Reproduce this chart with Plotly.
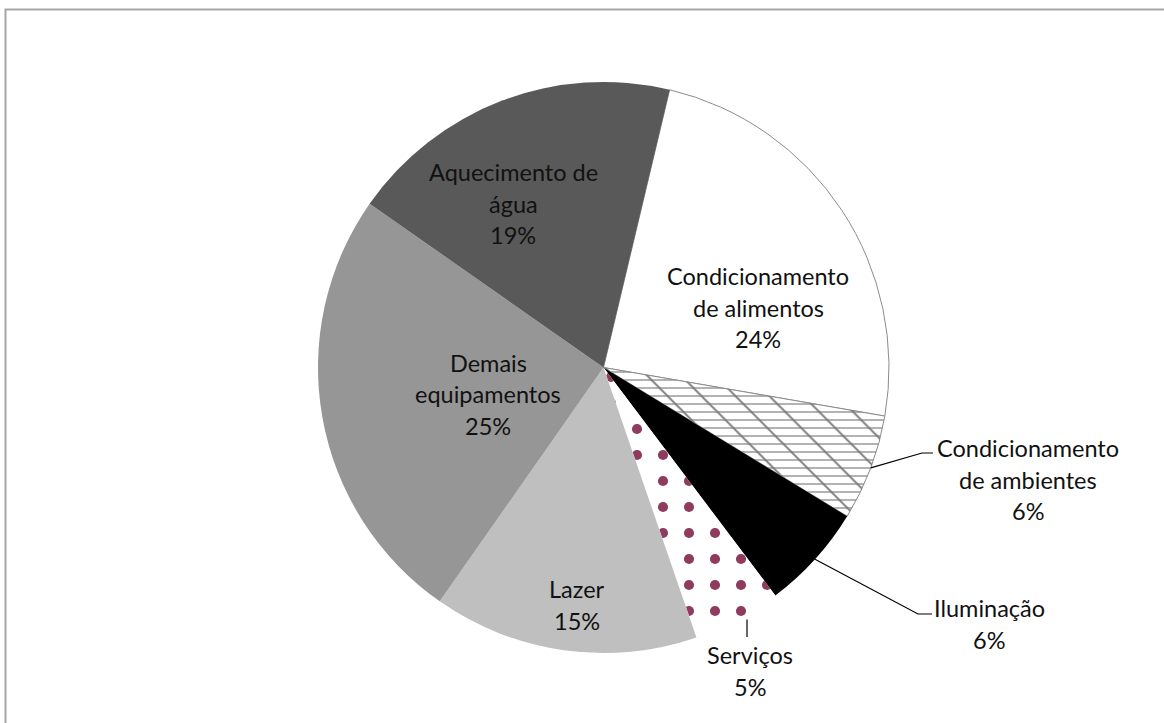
import math
import plotly.graph_objects as go

# Consumption share by end use (%), clockwise from the first slice
categories = [
    "Condicionamento de alimentos",
    "Condicionamento de ambientes",
    "Iluminação",
    "Serviços",
    "Lazer",
    "Demais equipamentos",
    "Aquecimento de água",
]
shares = [24, 6, 6, 5, 15, 25, 19]

# Label text split into lines
label_lines = [
    ["Condicionamento", "de alimentos"],
    ["Condicionamento", "de ambientes"],
    ["Iluminação"],
    ["Serviços"],
    ["Lazer"],
    ["Demais", "equipamentos"],
    ["Aquecimento de", "água"],
]

fill_colors = ["#ffffff", "#ffffff", "#000000", "#ffffff", "#bfbfbf", "#969696", "#595959"]

W, H = 1164, 723
CX, CY, R = 603.5, 367.5, 285.5   # pie centre and radius in pixels
ROTATION = 13.4                    # first slice starts this many degrees clockwise from 12 o'clock

def px(x):
    return x / W

def py(y):
    return 1 - y / H

dom_x = [px(CX - R), px(CX + R)]
dom_y = [py(CY + R), py(CY - R)]

fig = go.Figure()

# Base pie
fig.add_trace(go.Pie(
    labels=categories,
    values=shares,
    sort=False,
    direction="clockwise",
    rotation=ROTATION,
    textinfo="none",
    hoverinfo="label+percent",
    showlegend=False,
    domain=dict(x=dom_x, y=dom_y),
    marker=dict(
        colors=fill_colors,
        line=dict(color=["#8c8c8c", "#8c8c8c", "rgba(0,0,0,0)", "rgba(0,0,0,0)",
                         "rgba(0,0,0,0)", "rgba(0,0,0,0)", "rgba(0,0,0,0)"],
                  width=[1, 1, 0, 0, 0, 0, 0]),
        pattern=dict(
            shape=["", "-", "", ".", "", "", ""],
            fgcolor=["#ffffff", "#a0a0a0", "#000000", "#8e3b5e", "#bfbfbf", "#969696", "#595959"],
            size=[8, 8, 8, 26, 8, 8, 8],
            solidity=[0.2, 0.2, 0.2, 0.12, 0.2, 0.2, 0.2],
        ),
    ),
))

# Diagonal hatch layered over the "Condicionamento de ambientes" slice
fig.add_trace(go.Pie(
    labels=categories,
    values=shares,
    sort=False,
    direction="clockwise",
    rotation=ROTATION,
    textinfo="none",
    hoverinfo="skip",
    showlegend=False,
    domain=dict(x=dom_x, y=dom_y),
    marker=dict(
        colors=["rgba(0,0,0,0)"] * len(shares),
        line=dict(width=0),
        pattern=dict(
            shape=["", "\\", "", "", "", "", ""],
            fgcolor="#777777",
            bgcolor="rgba(0,0,0,0)",
            size=24,
            solidity=0.08,
        ),
    ),
))

FONT = dict(family="Lato, Open Sans, sans-serif", size=23.5, color="#111111")
LINE_GAP = 31.5

# Label blocks: centre x and first-line y in pixels
label_pos = [
    (758, 276),
    (1028, 448),
    (989, 608),
    (750, 655),
    (577, 589),
    (488, 363),
    (513, 172),
]

total = sum(shares)
annotations = []
for lines, share, (lx, ly) in zip(label_lines, shares, label_pos):
    rows = lines + [f"{share / total * 100:.0f}%"]
    for i, row in enumerate(rows):
        annotations.append(dict(
            x=px(lx), y=py(ly + i * LINE_GAP), xref="paper", yref="paper",
            text=row, showarrow=False, font=FONT,
            xanchor="center", yanchor="middle",
        ))

# Leader lines for the small outside-labelled slices
def edge_point(idx):
    start = ROTATION + 360 * sum(shares[:idx]) / total
    mid = start + 360 * shares[idx] / total / 2
    a = math.radians(mid)
    return CX + R * math.sin(a), CY - R * math.cos(a)

shapes = []
leaders = {
    1: [(922, 453), (933, 453)],
    2: [(918, 614), (932, 614)],
    3: [(747, 637)],
}
for idx, pts in leaders.items():
    ex, ey = edge_point(idx)
    if idx == 3:
        ex = 747
    path_pts = [(ex, ey)] + pts
    d = "M " + " L ".join(f"{px(x)},{py(y)}" for x, y in path_pts)
    shapes.append(dict(type="path", path=d, xref="paper", yref="paper",
                       line=dict(color="#000000", width=1.2)))

# Chart-area frame
shapes.append(dict(type="rect", xref="paper", yref="paper",
                   x0=px(5.5), y0=py(740), x1=px(1180), y1=py(9.5),
                   line=dict(color="#a6a6a6", width=2), fillcolor="rgba(0,0,0,0)"))

fig.update_layout(
    width=W, height=H,
    margin=dict(l=0, r=0, t=0, b=0),
    paper_bgcolor="#ffffff",
    plot_bgcolor="#ffffff",
    annotations=annotations,
    shapes=shapes,
)

fig.write_html("out.html")
